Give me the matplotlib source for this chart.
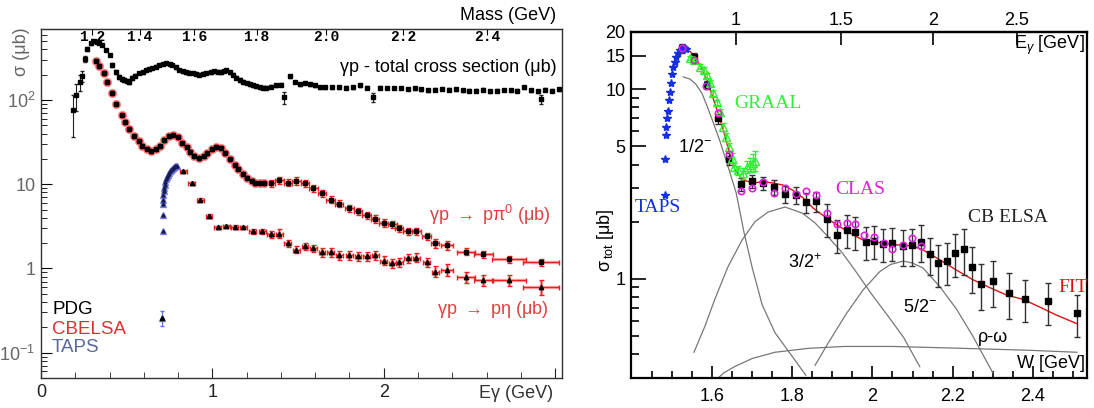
import numpy as np
import matplotlib.pyplot as plt
from matplotlib.ticker import FixedLocator, FixedFormatter, NullFormatter

plt.rcParams['font.family'] = ['Liberation Sans', 'DejaVu Sans']
plt.rcParams['mathtext.fontset'] = 'custom'
plt.rcParams['mathtext.rm'] = 'Liberation Sans'
plt.rcParams['mathtext.it'] = 'Liberation Sans:italic'
plt.rcParams['mathtext.bf'] = 'Liberation Sans:bold'

MP = 0.938  # proton mass [GeV]

# ---------------- left panel: sigma vs E_gamma ----------------
pdg_e = [0.187, 0.205, 0.227, 0.241, 0.257, 0.270, 0.290, 0.310, 0.325, 0.340,
         0.357, 0.380, 0.400, 0.415, 0.440, 0.456, 0.470, 0.485, 0.500, 0.515,
         0.530, 0.550, 0.573, 0.595, 0.614, 0.632, 0.650, 0.670, 0.690, 0.710,
         0.730, 0.750, 0.766, 0.787, 0.807, 0.827, 0.847, 0.865, 0.884, 0.905,
         0.924, 0.945, 0.965, 0.990, 1.010, 1.030, 1.050, 1.065, 1.080, 1.100,
         1.120, 1.140, 1.160, 1.180, 1.200, 1.220, 1.235, 1.255, 1.275, 1.295,
         1.315, 1.340, 1.370, 1.400, 1.420, 1.450, 1.480, 1.510, 1.540, 1.570,
         1.600, 1.630, 1.660, 1.700, 1.740, 1.780, 1.820, 1.860, 1.900, 1.936,
         1.980, 2.020, 2.060, 2.100, 2.140, 2.180, 2.220, 2.260, 2.300, 2.340,
         2.380, 2.420, 2.460, 2.500, 2.540, 2.580, 2.620, 2.660, 2.700, 2.740,
         2.780, 2.820, 2.860, 2.900, 2.920, 2.940, 2.980, 3.020]
pdg_s = [76, 115, 164, 193, 307, 405, 476, 500, 490, 480,
         450, 394, 343, 261, 215, 187, 178, 173, 168, 164,
         183, 195, 210, 215, 228, 232, 240, 250, 261, 270,
         276, 268, 261, 245, 228, 220, 215, 212, 210, 205,
         200, 205, 210, 215, 220, 218, 215, 222, 228, 215,
         200, 185, 173, 165, 160, 155, 150, 147, 143, 141,
         140, 145, 150, 152, 108, 193, 165, 155, 160, 155,
         150, 143, 142, 142, 143, 141, 142, 151, 140, 108,
         141, 140, 139, 139, 136, 138, 135, 131, 133, 136,
         133, 134, 131, 129, 130, 133, 127, 130, 132, 131,
         130, 142, 131, 128, 103, 133, 130, 134]
pdg_err = [40, 40, 35, 30, 25, 20, 20, 15, 15, 15,
           15, 12, 12, 12, 10, 10, 8, 8, 8, 8,
           8, 8, 8, 8, 8, 8, 8, 8, 8, 8,
           8, 8, 8, 8, 8, 8, 8, 8, 8, 8,
           8, 8, 8, 8, 8, 8, 8, 8, 8, 8,
           8, 8, 8, 8, 6, 6, 6, 6, 6, 6,
           6, 6, 6, 6, 18, 8, 6, 6, 6, 6,
           6, 6, 6, 6, 6, 6, 6, 6, 6, 14,
           5, 5, 5, 5, 5, 5, 5, 5, 5, 5,
           5, 5, 5, 5, 5, 5, 5, 5, 5, 5,
           5, 5, 5, 5, 12, 5, 5, 5]

pi0_e = [0.32, 0.34, 0.365, 0.385, 0.415, 0.44, 0.47, 0.49, 0.515, 0.54,
         0.57, 0.59, 0.62, 0.643, 0.67, 0.695, 0.72, 0.745, 0.77, 0.80,
         0.82, 0.85, 0.87, 0.895, 0.92, 0.95, 0.97, 1.00, 1.02, 1.05,
         1.075, 1.10, 1.13, 1.15, 1.18, 1.20, 1.23, 1.25, 1.275, 1.30,
         1.34, 1.39, 1.44, 1.49, 1.54, 1.59, 1.64, 1.69, 1.74, 1.80,
         1.85, 1.90, 1.95, 2.00, 2.05, 2.09, 2.14, 2.19, 2.25, 2.30,
         2.37, 2.48, 2.58, 2.73, 2.92]
pi0_s = [291, 254, 210, 164, 121, 89, 66, 55, 45, 38,
         32.5, 28.4, 26, 24.7, 26, 28.4, 34, 38, 39, 36,
         31, 27.6, 24, 21.5, 20.4, 21.5, 23.4, 26, 27.6, 27,
         23.4, 19.9, 16.8, 15.2, 13.2, 11.8, 10.9, 10.5, 10.5, 10.5,
         10.3, 11.1, 10.5, 11.0, 10.3, 9.0, 7.8, 6.6, 5.9, 5.2,
         4.8, 4.3, 3.9, 3.5, 3.35, 3.0, 2.76, 2.76, 2.4, 2.0,
         1.88, 1.59, 1.47, 1.28, 1.18]
pi0_rel = [0.02] * 40 + [0.1, 0.1, 0.1, 0.1, 0.1, 0.1, 0.1, 0.1, 0.1, 0.1,
                         0.1, 0.1, 0.1, 0.1, 0.1, 0.1, 0.1, 0.1, 0.1, 0.12,
                         0.12, 0.1, 0.1, 0.1, 0.1]
pi0_xerr = [0.008] * 40 + [0.025, 0.025, 0.025, 0.025, 0.025, 0.025, 0.025, 0.025,
                           0.025, 0.025, 0.025, 0.025, 0.025, 0.025, 0.025, 0.025,
                           0.025, 0.025, 0.025, 0.025, 0.035, 0.055, 0.055, 0.1, 0.105]
n_dense = 40  # pi0 points drawn as big glowing circles

eta_e = [0.83, 0.88, 0.93, 0.98, 1.03, 1.08, 1.13, 1.18, 1.235, 1.29,
         1.34, 1.39, 1.44, 1.49, 1.54, 1.59, 1.64, 1.69, 1.74, 1.80,
         1.85, 1.90, 1.95, 2.00, 2.05, 2.09, 2.14, 2.19, 2.25, 2.30,
         2.37, 2.48, 2.58, 2.73, 2.92]
eta_s = [14.3, 10.3, 6.6, 4.2, 3.08, 3.16, 3.1, 3.08, 2.76, 2.76,
         2.54, 2.6, 2.0, 1.68, 1.83, 1.75, 1.55, 1.55, 1.43, 1.43,
         1.39, 1.39, 1.43, 1.24, 1.15, 1.18, 1.32, 1.35, 1.18, 0.92,
         0.97, 0.80, 0.72, 0.72, 0.61]
eta_rel = [0.04, 0.04, 0.05, 0.05, 0.05, 0.05, 0.05, 0.05, 0.06, 0.06,
           0.1, 0.12, 0.1, 0.1, 0.1, 0.1, 0.12, 0.12, 0.12, 0.12,
           0.12, 0.12, 0.12, 0.12, 0.12, 0.12, 0.12, 0.12, 0.12, 0.15,
           0.15, 0.15, 0.15, 0.15, 0.2]
eta_xerr = [0.02] * 30 + [0.035, 0.055, 0.055, 0.1, 0.105]

taps_e = [0.707, 0.709, 0.710, 0.711, 0.712, 0.714, 0.716, 0.719, 0.722, 0.726,
          0.730, 0.735, 0.740, 0.746, 0.752, 0.758, 0.764, 0.770, 0.776, 0.782,
          0.788, 0.794]
taps_s = [0.26, 2.76, 4.3, 5.8, 6.6, 7.5, 8.3, 9.1, 9.9, 10.7,
          11.5, 12.3, 13.0, 13.7, 14.3, 14.9, 15.4, 15.8, 16.1, 16.3,
          16.4, 16.3]

mass_ticks = [1.2, 1.4, 1.6, 1.8, 2.0, 2.2, 2.4]

# ---------------- right panel: eta photoproduction vs W ----------------
taps_w = [1.4835, 1.4840, 1.4845, 1.486, 1.488, 1.490, 1.492, 1.494, 1.497, 1.500,
          1.503, 1.507, 1.511, 1.515, 1.520, 1.525, 1.530, 1.535]
taps_r = [2.77, 4.3, 5.7, 6.3, 7.0, 7.7, 8.75, 9.6, 10.8, 12.0,
          13.0, 13.9, 14.7, 15.5, 16.0, 16.3, 16.4, 16.2]

graal_w = [1.545, 1.555, 1.570, 1.580, 1.588, 1.595, 1.603, 1.612, 1.620, 1.627,
           1.635, 1.642, 1.650, 1.655, 1.665, 1.677, 1.687, 1.695, 1.702, 1.707]
graal_s = [14.6, 14.2, 13.1, 12.6, 11.8, 10.8, 9.5, 8.5, 7.6, 6.3,
           5.6, 4.96, 4.34, 3.9, 3.74, 3.6, 3.9, 4.0, 4.1, 4.2]
graal_err = [0.4, 0.4, 0.4, 0.4, 0.4, 0.4, 0.35, 0.3, 0.3, 0.3,
             0.3, 0.25, 0.25, 0.2, 0.2, 0.25, 0.3, 0.35, 0.45, 0.5]

clas_w = [1.525, 1.555, 1.585, 1.615, 1.642, 1.672, 1.700, 1.727, 1.754, 1.782,
          1.809, 1.834, 1.859, 1.886, 1.911, 1.936, 1.957, 1.980, 2.003, 2.028,
          2.050, 2.075, 2.098, 2.120]
clas_s = [16.4, 14.2, 10.4, 7.5, 4.55, 2.9, 3.0, 3.25, 2.84, 3.0,
          2.8, 2.9, 2.77, 2.22, 1.95, 1.97, 1.95, 1.71, 1.66, 1.55,
          1.44, 1.5, 1.64, 1.49]

cb_w = [1.525, 1.555, 1.588, 1.615, 1.642, 1.672, 1.700, 1.727, 1.754, 1.782,
        1.809, 1.834, 1.859, 1.886, 1.911, 1.936, 1.957, 1.983, 2.005, 2.026,
        2.050, 2.075, 2.098, 2.122, 2.143, 2.163, 2.185, 2.206, 2.228, 2.248,
        2.271, 2.300, 2.340, 2.380, 2.437, 2.510]
cb_s = [16.4, 14.7, 10.5, 7.0, 4.3, 3.16, 3.28, 3.2, 3.05, 2.8,
        2.77, 2.54, 2.57, 2.07, 1.71, 1.81, 1.77, 1.57, 1.59, 1.53,
        1.55, 1.49, 1.5, 1.57, 1.35, 1.21, 1.24, 1.37, 1.44, 1.16,
        0.94, 0.975, 0.84, 0.785, 0.76, 0.66]
cb_rel = [0.05, 0.05, 0.05, 0.06, 0.07, 0.08, 0.08, 0.08, 0.09, 0.1,
          0.1, 0.12, 0.12, 0.2, 0.2, 0.2, 0.2, 0.2, 0.2, 0.2,
          0.2, 0.22, 0.22, 0.22, 0.22, 0.25, 0.25, 0.25, 0.27, 0.27,
          0.27, 0.27, 0.27, 0.25, 0.25, 0.25]

fit_w = [1.525, 1.545, 1.558, 1.575, 1.588, 1.600, 1.615, 1.628, 1.640, 1.657,
         1.677, 1.702, 1.727, 1.752, 1.777, 1.800, 1.827, 1.852, 1.886, 1.919,
         1.951, 1.977, 2.018, 2.060, 2.100, 2.126, 2.168, 2.210, 2.250, 2.292,
         2.335, 2.375, 2.417, 2.458, 2.510]
fit_s = [16.4, 15.8, 14.7, 12.8, 11.1, 9.3, 7.5, 6.1, 4.9, 3.75,
         3.32, 3.2, 3.25, 3.2, 3.12, 2.94, 2.67, 2.36, 2.09, 1.88,
         1.71, 1.6, 1.55, 1.51, 1.49, 1.42, 1.26, 1.11, 0.99, 0.9,
         0.82, 0.78, 0.71, 0.645, 0.58]

s11_w = [1.528, 1.545, 1.560, 1.575, 1.590, 1.605, 1.620, 1.640, 1.660, 1.680,
         1.700, 1.725, 1.757, 1.800, 1.834]
s11_s = [11.6, 11.3, 10.6, 9.5, 7.9, 6.5, 5.3, 3.9, 2.85, 1.75,
         1.15, 0.73, 0.52, 0.39, 0.31]
p13_w = [1.555, 1.582, 1.607, 1.640, 1.675, 1.707, 1.740, 1.782, 1.825, 1.857,
         1.890, 1.925, 1.959, 1.998, 2.038, 2.078, 2.118]
p13_s = [0.41, 0.56, 0.78, 1.16, 1.6, 2.0, 2.25, 2.39, 2.22, 1.97,
         1.66, 1.37, 1.09, 0.83, 0.64, 0.49, 0.344]
d15_w = [1.857, 1.890, 1.936, 1.977, 2.018, 2.045, 2.077, 2.100, 2.126, 2.168,
         2.210, 2.250, 2.300]
d15_s = [0.35, 0.46, 0.66, 0.875, 1.09, 1.19, 1.24, 1.21, 1.14, 0.91,
         0.69, 0.5, 0.32]
rho_w = [1.615, 1.630, 1.657, 1.700, 1.757, 1.840, 1.930, 2.050, 2.226, 2.390, 2.510]
rho_s = [0.30, 0.32, 0.345, 0.38, 0.41, 0.43, 0.44, 0.44, 0.43, 0.42, 0.41]


def e_to_w(e):
    return np.sqrt(np.maximum(MP**2 + 2 * MP * np.asarray(e, float), 1e-6))


def w_to_e(w):
    return (np.asarray(w, float)**2 - MP**2) / (2 * MP)


W, H = 1094, 408
fig = plt.figure(figsize=(W / 100, H / 100), dpi=100)


def fx(x):
    return x / W


def fy(y):
    return 1 - y / H


# ---- left ----
ax1 = fig.add_axes([fx(41), fy(378), (562 - 41) / W, (378 - 29) / H])
ax1.set_yscale('log')
ax1.set_xlim(0, 3.04)
ax1.set_ylim(0.05, 700)

ax1.errorbar(pdg_e, pdg_s, yerr=pdg_err, fmt='s', ms=3.2, color='black',
             ecolor='#222222', elinewidth=0.8, capsize=1.5, zorder=4)

red = '#e82020'
pi0_yerr = [s * r for s, r in zip(pi0_s, pi0_rel)]
ax1.errorbar(pi0_e, pi0_s, yerr=pi0_yerr, xerr=pi0_xerr, fmt='none',
             ecolor='#ffa8a8', elinewidth=2.4, capsize=0, zorder=2)
ax1.errorbar(pi0_e, pi0_s, yerr=pi0_yerr, xerr=pi0_xerr, fmt='none',
             ecolor=red, elinewidth=0.9, capsize=1.8, zorder=3)
ax1.plot(pi0_e[:n_dense], pi0_s[:n_dense], 'o', ms=5.6, mfc=red,
         mec='#ff8a8a', mew=1.0, zorder=3)
ax1.plot(pi0_e, pi0_s, 's', ms=2.4, color='black', zorder=4)

eta_yerr = [s * r for s, r in zip(eta_s, eta_rel)]
ax1.errorbar(eta_e, eta_s, yerr=eta_yerr, xerr=eta_xerr, fmt='none',
             ecolor='#ffa8a8', elinewidth=2.4, capsize=0, zorder=2)
ax1.errorbar(eta_e, eta_s, yerr=eta_yerr, xerr=eta_xerr, fmt='^', ms=3.2,
             color='black', ecolor=red, elinewidth=0.9, capsize=1.8, zorder=3)

ax1.plot(taps_e, taps_s, '^', ms=4.5, color='#6070d8', alpha=0.8, zorder=3)
ax1.errorbar(taps_e[:1], taps_s[:1], yerr=[0.05], fmt='^', ms=3, color='black',
             ecolor='#6070d8', elinewidth=0.9, capsize=1.5, zorder=4)
ax1.plot(taps_e, taps_s, '^', ms=2.2, color='#1a1a50', zorder=4)

ax1.xaxis.set_major_locator(FixedLocator([0, 1, 2, 3]))
ax1.xaxis.set_major_formatter(FixedFormatter(['0', '1', '2', '']))
ax1.xaxis.set_minor_locator(FixedLocator(np.arange(0.2, 3.04, 0.2)))
ax1.yaxis.set_major_locator(FixedLocator([0.1, 1, 10, 100]))
ax1.yaxis.set_major_formatter(FixedFormatter(['$10^{-1}$', '1', '10', '$10^{2}$']))
ax1.yaxis.set_minor_locator(FixedLocator(
    [m * 10.0**k for k in range(-2, 3) for m in range(2, 10)]))
ax1.yaxis.set_minor_formatter(NullFormatter())
ax1.tick_params(axis='x', which='both', direction='in', labelsize=13, pad=4,
                colors='#222222')
ax1.tick_params(axis='x', which='major', length=7)
ax1.tick_params(axis='x', which='minor', length=4)
ax1.tick_params(axis='y', which='both', direction='in', labelsize=13, pad=4,
                labelcolor='#666666')
ax1.tick_params(axis='y', which='major', length=8)
ax1.tick_params(axis='y', which='minor', length=4)
for sp in ax1.spines.values():
    sp.set_color('#333333')
    sp.set_linewidth(1.0)

sec1 = ax1.secondary_xaxis('top', functions=(e_to_w, w_to_e))
sec1.xaxis.set_major_locator(FixedLocator(mass_ticks))
sec1.xaxis.set_major_formatter(FixedFormatter(['%.1f' % m for m in mass_ticks]))
sec1.tick_params(which='major', direction='in', length=4, pad=-11)
for lab in sec1.get_xticklabels():
    lab.set_family(['Liberation Mono', 'DejaVu Sans Mono'])
    lab.set_weight('bold')
    lab.set_size(10.5)
sec1.spines['top'].set_color('#333333')

fig.text(fx(556), fy(15), 'Mass (GeV)', ha='right', va='center', fontsize=13)
fig.text(fx(22), fy(52), 'σ (μb)', ha='center', va='center', rotation=90,
         fontsize=13, color='#666666')
fig.text(fx(553), fy(393), 'Eγ (GeV)', ha='right', va='center', fontsize=13,
         color='#333333')
fig.text(fx(557), fy(68), 'γp - total cross section (μb)', ha='right',
         va='center', fontsize=13)
fig.text(fx(550), fy(215), r'γp $\rightarrow$ pπ$^{0}$ (μb)', ha='right',
         va='center', fontsize=13, color='#e04040')
fig.text(fx(548), fy(310), r'γp $\rightarrow$ pη (μb)', ha='right',
         va='center', fontsize=13, color='#e04040')
fig.text(fx(52), fy(310), 'PDG', ha='left', va='center', fontsize=13.5,
         color='black')
fig.text(fx(52), fy(329), 'CBELSA', ha='left', va='center', fontsize=13.5,
         color='#e03030')
fig.text(fx(52), fy(347), 'TAPS', ha='left', va='center', fontsize=13.5,
         color='#5a6898')

# ---- right ----
ax2 = fig.add_axes([fx(631), fy(378), (1087 - 631) / W, (378 - 32) / H])
ax2.set_yscale('log')
ax2.set_xlim(1.398, 2.535)
ax2.set_ylim(0.3, 20)

gray = '#777777'
for cw, cs in [(s11_w, s11_s), (p13_w, p13_s), (d15_w, d15_s), (rho_w, rho_s)]:
    ax2.plot(cw, cs, '-', color=gray, lw=0.9, zorder=2)

ax2.plot(fit_w, fit_s, '-', color='#e01010', lw=1.0, zorder=3)
cb_err = [s * r for s, r in zip(cb_s, cb_rel)]
ax2.errorbar(cb_w, cb_s, yerr=cb_err, fmt='s', ms=5, color='black',
             ecolor='#333333', elinewidth=1.0, capsize=2, zorder=4)
ax2.errorbar(graal_w, graal_s, yerr=graal_err, fmt='^', ms=5.5, mfc='none',
             mec='#33ee33', mew=1.0, ecolor='#33ee33', elinewidth=0.9,
             capsize=2, zorder=5)
ax2.plot(clas_w, clas_s, 'o', ms=4.6, mfc='none', mec='#e020e0', mew=1.2, zorder=6)
ax2.plot(taps_w, taps_r, '*', ms=6, color='#1530e0', zorder=5)

ax2.xaxis.set_major_locator(FixedLocator([1.6, 1.8, 2.0, 2.2, 2.4]))
ax2.xaxis.set_major_formatter(FixedFormatter(['1.6', '1.8', '2', '2.2', '2.4']))
ax2.xaxis.set_minor_locator(FixedLocator(np.arange(1.45, 2.53, 0.05)))
ax2.yaxis.set_major_locator(FixedLocator([1, 5, 10, 15, 20]))
ax2.yaxis.set_major_formatter(FixedFormatter(['1', '5', '10', '15', '20']))
ax2.yaxis.set_minor_locator(FixedLocator(
    [0.4, 0.5, 0.6, 0.7, 0.8, 0.9, 2, 3, 4, 6, 7, 8, 9]))
ax2.yaxis.set_minor_formatter(NullFormatter())
ax2.tick_params(axis='x', which='both', direction='in', labelsize=13, pad=7,
                width=1.2)
ax2.tick_params(axis='x', which='major', length=9)
ax2.tick_params(axis='x', which='minor', length=5)
ax2.tick_params(axis='y', which='both', direction='in', labelsize=13, pad=4,
                width=1.2)
ax2.tick_params(axis='y', which='major', length=11)
ax2.tick_params(axis='y', which='minor', length=6)
for sp in ax2.spines.values():
    sp.set_linewidth(1.6)

sec2 = ax2.secondary_xaxis('top', functions=(w_to_e, e_to_w))
sec2.xaxis.set_major_locator(FixedLocator([1, 1.5, 2, 2.5]))
sec2.xaxis.set_major_formatter(FixedFormatter(['1', '1.5', '2', '2.5']))
sec2.tick_params(which='major', direction='in', length=9, width=1.2,
                 labelsize=13, pad=2)
sec2.spines['top'].set_linewidth(1.6)

fig.text(fx(605), fy(240), r'σ$_{\,\mathrm{tot}}$ [μb]', ha='center',
         va='center', rotation=90, fontsize=13)
fig.text(fx(1085), fy(45), r'E$_{\gamma}$ [GeV]', ha='right', va='center',
         fontsize=13)
fig.text(fx(1085), fy(363), 'W [GeV]', ha='right', va='center', fontsize=13)

serif = ['Liberation Serif', 'DejaVu Serif']
fig.text(fx(734), fy(103), 'GRAAL', ha='left', va='center', fontsize=14,
         family=serif, color='#33ee33')
fig.text(fx(635), fy(208), 'TAPS', ha='left', va='center', fontsize=14,
         family=serif, color='#1530e0')
fig.text(fx(835), fy(190), 'CLAS', ha='left', va='center', fontsize=14,
         family=serif, color='#e020e0')
fig.text(fx(968), fy(218), 'CB ELSA', ha='left', va='center', fontsize=14,
         family=serif, color='#222222')
fig.text(fx(1058), fy(287), 'FIT', ha='left', va='center', fontsize=14,
         family=serif, color='#e01010')
fig.text(fx(678), fy(147), '1/2$^{-}$', ha='left', va='center', fontsize=13)
fig.text(fx(788), fy(263), '3/2$^{+}$', ha='left', va='center', fontsize=13)
fig.text(fx(903), fy(307), '5/2$^{-}$', ha='left', va='center', fontsize=13)
fig.text(fx(978), fy(337), 'ρ-ω', ha='left', va='center', fontsize=13)

fig.savefig('out.png', dpi=100)
